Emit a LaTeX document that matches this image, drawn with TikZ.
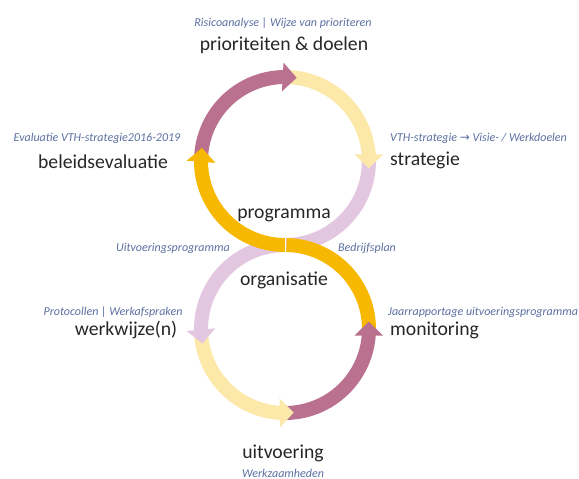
\documentclass[tikz,border=0pt]{standalone}
\usepackage{fontspec}
\setmainfont{Carlito}
\newfontfamily\symb{DejaVu Sans}
\usetikzlibrary{arrows.meta,bending,calc}

\definecolor{mauve}{HTML}{B9718F}
\definecolor{goud}{HTML}{F6B800}
\definecolor{geel}{HTML}{FCE8A8}
\definecolor{lila}{HTML}{E3C6E0}
\definecolor{sub}{HTML}{5B6FA0}
\definecolor{tekst}{HTML}{262626}

\tikzset{
  ring/.style={line width=14pt},
  pijl/.style={ring,-{Triangle[width=28pt,length=14pt,flex]}},
  hoofd/.style={font=\fontsize{19.7}{22}\selectfont,text=tekst,inner sep=0pt},
  toel/.style={font=\fontsize{12}{14}\selectfont\itshape,text=sub,inner sep=0pt},
}

\begin{document}
\begin{tikzpicture}[x=1pt,y=1pt]
	\useasboundingbox (0,0) rectangle (579,479);
	% ring centres and start points
	\coordinate (U) at (285,318);
	\coordinate (L) at (285,150);
	\coordinate (join) at (285,234);
	\coordinate (u-r) at ($(U)+(4.5:84)$);
	\coordinate (u-t) at ($(U)+(91.5:84)$);
	\coordinate (u-l) at ($(U)+(180.5:84)$);
	\coordinate (l-l) at ($(L)+(180.5:84)$);
	\coordinate (l-b) at ($(L)+(266.5:84)$);
	\coordinate (l-r) at ($(L)+(355.5:84)$);
	% upper ring
	\draw[ring,lila] (u-r) arc[start angle=4.5,end angle=-90,radius=84];
	\draw[pijl,geel] (u-t) arc[start angle=91.5,end angle=-5,radius=84];
	\draw[pijl,mauve] (u-l) arc[start angle=180.5,end angle=82,radius=84];
	% lower ring
	\draw[ring,goud] (l-r) arc[start angle=-4.5,end angle=89,radius=84];
	\draw[pijl,mauve] (l-b) arc[start angle=266.5,end angle=365,radius=84];
	\draw[pijl,geel] (l-l) arc[start angle=180.5,end angle=276,radius=84];
	\draw[pijl,lila] (join) arc[start angle=90,end angle=190,radius=84];
	% crossing
	\draw[pijl,goud] (join) arc[start angle=270,end angle=171,radius=84];
	\draw[white,line width=1pt] ([yshift=-8pt]join) -- ([yshift=8pt]join);
	% labels
	\node[toel] (risico) at (283,456) {Risicoanalyse | Wijze van prioriteren};
	\node[hoofd] (prio) at (284,434) {prioriteiten \& doelen};
	\node[toel] (evalu) at (97,341) {Evaluatie VTH-strategie2016-2019};
	\node[hoofd] (beleid) at (103,317) {beleidsevaluatie};
	\node[toel,anchor=west] (vth) at (390,341) {VTH-strategie {\symb →} Visie- / Werkdoelen};
	\node[hoofd,anchor=west] (strat) at (390,319) {strategie};
	\node[hoofd] (progr) at (284,264) {programma};
	\node[toel] (uitvp) at (173,231) {Uitvoeringsprogramma};
	\node[toel] (bedr) at (367,231) {Bedrijfsplan};
	\node[hoofd] (organ) at (284,199) {organisatie};
	\node[toel] (proto) at (113,167) {Protocollen | Werkafspraken};
	\node[hoofd] (werkw) at (126,149) {werkwijze(n)};
	\node[toel,anchor=west] (jaar) at (388,167) {Jaarrapportage uitvoeringsprogramma};
	\node[hoofd,anchor=west] (monit) at (390,149) {monitoring};
	\node[hoofd] (uitv) at (283,26) {uitvoering};
	\node[toel] (werkz) at (283,6) {Werkzaamheden};
\end{tikzpicture}
\end{document}
